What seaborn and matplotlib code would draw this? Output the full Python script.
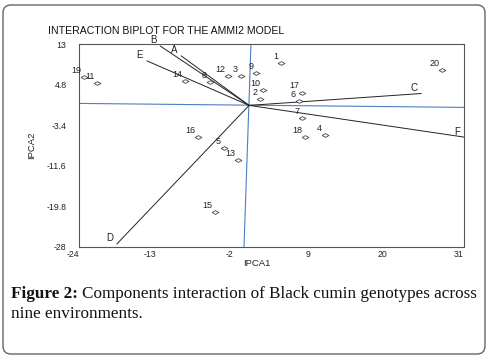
import matplotlib
matplotlib.use("Agg")
import matplotlib.pyplot as plt
from matplotlib.patches import FancyBboxPatch
from matplotlib.transforms import IdentityTransform
import pandas as pd
import seaborn as sns

# genotype scores (IPCA1, IPCA2)
genotypes = [str(i) for i in range(1, 21)]
ipca1 = [4.9, 1.9, -0.9, 11.1, -3.3, 7.4, 7.9, -5.3, 1.3, 2.3,
         -21.4, -2.7, -1.3, -8.9, -4.6, -7.0, 7.9, 8.3, -23.3, 27.9]
ipca2 = [9.2, 1.9, 6.6, -5.4, -8.0, 1.4, -2.0, 5.4, 7.2, 3.7,
         5.2, 6.6, -10.4, 5.6, -21.0, -5.8, 3.2, -5.8, 6.4, 7.8]

# environment vectors
envs = ["A", "B", "C", "D", "E", "F"]
env_ipca1 = [-9.4, -12.4, 24.9, -18.6, -14.3, 31.0]
env_ipca2 = [10.6, 12.6, 3.0, -27.4, 9.6, -5.8]
origin = (0.3, 0.6)

# slightly tilted reference (zero) lines
hline_x = [-24, 31]
hline_y = [1.0, 0.2]
vline_x = [0.57, -0.43]
vline_y = [13, -28]

xticks = [-24, -13, -2, 9, 20, 31]
yticks = [13, 4.8, -3.4, -11.6, -19.8, -28]

sns.set_theme(style="white")
plt.rcParams['font.family'] = ['Liberation Sans', 'DejaVu Sans']

W, H = 490, 358
fig = plt.figure(figsize=(W / 100, H / 100), dpi=100)
ax = fig.add_axes([79 / W, 111 / H, 385 / W, 203 / H])

ax.plot(hline_x, hline_y, color='#4a7fc4', lw=0.8, zorder=1)
ax.plot(vline_x, vline_y, color='#4a7fc4', lw=0.8, zorder=1)

for e, ex, ey in zip(envs, env_ipca1, env_ipca2):
    ax.plot([origin[0], ex], [origin[1], ey], color='#222222', lw=0.7, zorder=2)
    ax.annotate(e, (ex, ey), xytext=(-5, 4), textcoords='offset points',
                ha='center', va='center', fontsize=7, color='#222222')

df = pd.DataFrame({"IPCA1": ipca1, "IPCA2": ipca2, "gen": genotypes})
diamond = [(-1, 0), (0, 0.55), (1, 0), (0, -0.55), (-1, 0)]
sns.scatterplot(data=df, x="IPCA1", y="IPCA2", marker=diamond, s=24,
                color='white', edgecolor='#444444', linewidth=0.6, ax=ax, zorder=3)
for g, x, y in zip(genotypes, ipca1, ipca2):
    ax.annotate(g, (x, y), xytext=(-2, 1.5), textcoords='offset points',
                ha='right', va='bottom', fontsize=6.5, color='#222222')

ax.set_xlim(-24, 31)
ax.set_ylim(-28, 13)
ax.set_xticks(xticks)
ax.set_xticklabels([str(t) for t in xticks])
ax.set_yticks(yticks)
ax.set_yticklabels([str(t) for t in yticks])
ax.tick_params(direction='in', length=3, color='#aaaaaa', labelsize=6.3,
               labelcolor='#222222')
ax.tick_params(axis='y', pad=9)
ax.tick_params(axis='x', pad=2)
for lab in ax.get_xticklabels():
    lab.set_ha('right')
ax.set_xlabel("")
ax.set_ylabel("")
for sp in ax.spines.values():
    sp.set_color('#555555')
    sp.set_linewidth(0.8)

fig.text(48 / W, 1 - 31 / H, "INTERACTION BIPLOT FOR THE AMMI2 MODEL",
         fontsize=7.6, ha='left', va='center', color='#111111')
fig.text(257 / W, 1 - 264 / H, "IPCA1", fontsize=6.8, ha='center', va='center',
         color='#222222')
fig.text(32 / W, 1 - 145 / H, "IPCA2", fontsize=6.8, ha='center', va='center',
         rotation=90, color='#222222')

serif = ['Liberation Serif', 'DejaVu Serif']
t1 = fig.text(11 / W, 1 - 298 / H, "Figure 2:", fontsize=12.3, family=serif,
              weight='bold', ha='left', va='baseline', color='#111111')
ax.annotate("Components interaction of Black cumin genotypes across",
            xy=(1, 0), xycoords=t1, xytext=(3, 0), textcoords='offset points',
            fontsize=12.3, family=serif, ha='left', va='bottom', color='#111111',
            annotation_clip=False)
fig.text(11 / W, 1 - 318 / H, "nine environments.", fontsize=12.3, family=serif,
         ha='left', va='baseline', color='#111111')

box = FancyBboxPatch((3, 4), 482, 349, boxstyle="round,pad=0,rounding_size=8",
                     transform=IdentityTransform(), fill=False, ec='#666666', lw=1)
fig.add_artist(box)

fig.savefig("out.png", dpi=100)
